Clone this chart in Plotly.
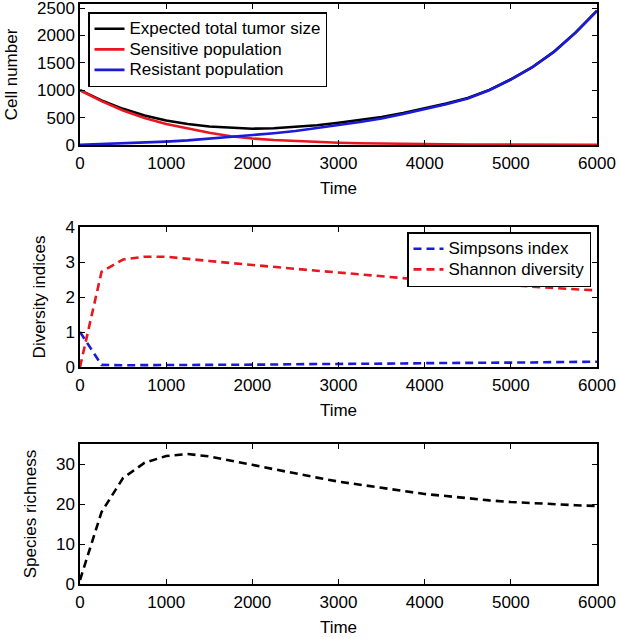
import plotly.graph_objects as go

# ---- data ----
time = [0, 250, 500, 750, 1000, 1250, 1500, 1750, 2000, 2250, 2500, 2750, 3000,
        3250, 3500, 3750, 4000, 4250, 4500, 4750, 5000, 5250, 5500, 5750, 6000]

sensitive = [1000, 800, 630, 495, 385, 300, 222, 160, 118, 92, 72, 55, 42,
             33, 26, 20, 15, 12, 9, 7, 5, 4, 3, 2, 2]
resistant = [3, 15, 30, 45, 62, 85, 115, 152, 180, 215, 255, 305, 365,
             420, 485, 565, 655, 745, 850, 1000, 1195, 1420, 1700, 2050, 2450]
total = [1003, 815, 660, 540, 447, 385, 337, 312, 298, 307, 327, 360, 407,
         453, 511, 585, 670, 757, 859, 1007, 1200, 1424, 1703, 2052, 2452]

simpson = [1.0, 0.06, 0.05, 0.05, 0.05, 0.05, 0.06, 0.06, 0.07, 0.07, 0.08, 0.08, 0.09,
           0.09, 0.10, 0.10, 0.11, 0.11, 0.12, 0.12, 0.13, 0.13, 0.14, 0.14, 0.15]
shannon = [0.0, 2.72, 3.07, 3.15, 3.15, 3.10, 3.03, 2.97, 2.91, 2.85, 2.80, 2.75, 2.70,
           2.64, 2.59, 2.54, 2.49, 2.45, 2.40, 2.36, 2.32, 2.29, 2.25, 2.22, 2.19]
richness = [1, 18, 26.5, 30.3, 32.0, 32.5, 31.9, 30.9, 29.8, 28.7, 27.6, 26.6, 25.6,
            24.8, 24.0, 23.2, 22.5, 22.0, 21.4, 20.9, 20.5, 20.2, 19.9, 19.7, 19.5]

x_ticks = [0, 1000, 2000, 3000, 4000, 5000, 6000]
y1_ticks = [0, 500, 1000, 1500, 2000, 2500]
y2_ticks = [0, 1, 2, 3, 4]
y3_ticks = [0, 10, 20, 30]

names_top = ["Expected total tumor size", "Sensitive population", "Resistant population"]
names_mid = ["Simpsons index", "Shannon diversity"]

RED = "#e8161f"
BLUE = "#1a1ad8"
FONT = "Liberation Sans, Arial, Helvetica, sans-serif"
FS = 17
LFS = 13.5


def lname(s):
    return "<span style='font-size:17px'>" + s + "</span>"


fig = go.Figure()

# top panel
fig.add_trace(go.Scatter(x=time, y=total, mode="lines", name=lname(names_top[0]),
                         line=dict(color="black", width=2.6), xaxis="x", yaxis="y", legend="legend"))
fig.add_trace(go.Scatter(x=time, y=sensitive, mode="lines", name=lname(names_top[1]),
                         line=dict(color=RED, width=2.6), xaxis="x", yaxis="y", legend="legend"))
fig.add_trace(go.Scatter(x=time, y=resistant, mode="lines", name=lname(names_top[2]),
                         line=dict(color=BLUE, width=2.6), xaxis="x", yaxis="y", legend="legend"))

# middle panel
fig.add_trace(go.Scatter(x=time, y=simpson, mode="lines", name=lname(names_mid[0]),
                         line=dict(color=BLUE, width=2.6, dash="8px,5px"),
                         xaxis="x2", yaxis="y2", legend="legend2"))
fig.add_trace(go.Scatter(x=time, y=shannon, mode="lines", name=lname(names_mid[1]),
                         line=dict(color=RED, width=2.6, dash="8px,5px"),
                         xaxis="x2", yaxis="y2", legend="legend2"))

# bottom panel
fig.add_trace(go.Scatter(x=time, y=richness, mode="lines", name="Species richness",
                         line=dict(color="black", width=2.6, dash="8px,5px"),
                         xaxis="x3", yaxis="y3", showlegend=False))

H = 639
W = 619
ML, MR, MT, MB = 80, 22, 4, 55
ph = H - MT - MB


def py(pix):
    return (H - MB - pix) / ph


def px(pix):
    return (pix - ML) / (W - ML - MR)


axis_common = dict(showline=True, linecolor="black", linewidth=1.5, mirror="ticks",
                   ticks="inside", ticklen=5, tickwidth=1.3, tickcolor="black",
                   showgrid=False, zeroline=False, automargin=False,
                   ticklabeloverflow="allow",
                   tickfont=dict(family=FONT, size=FS, color="black"))

xcommon = dict(axis_common, range=[0, 6000], tickvals=x_ticks, ticklabelstandoff=2,
               title=dict(text="Time", font=dict(family=FONT, size=FS, color="black"), standoff=10))

ytitle_font = dict(family=FONT, size=FS, color="black")

leg_common = dict(bgcolor="white", bordercolor="black", borderwidth=1.5,
                  font=dict(family=FONT, size=LFS, color="black"),
                  tracegroupgap=0, itemwidth=30)

fig.update_layout(
    width=W, height=H,
    margin=dict(l=ML, r=MR, t=MT, b=MB, autoexpand=False),
    paper_bgcolor="white", plot_bgcolor="white",
    font=dict(family=FONT, size=FS, color="black"),
    xaxis=dict(xcommon, domain=[0, 1], anchor="y"),
    xaxis2=dict(xcommon, domain=[0, 1], anchor="y2"),
    xaxis3=dict(xcommon, domain=[0, 1], anchor="y3"),
    yaxis=dict(axis_common, domain=[py(145), py(4)], range=[0, 2575], tickvals=y1_ticks,
               anchor="x", title=dict(text="Cell number", font=ytitle_font)),
    yaxis2=dict(axis_common, domain=[py(367), py(227)], range=[0, 4], tickvals=y2_ticks,
                anchor="x2", title=dict(text="Diversity indices", font=ytitle_font)),
    yaxis3=dict(axis_common, domain=[py(584), py(444)], range=[0, 35], tickvals=y3_ticks,
                anchor="x3", title=dict(text="Species richness", font=ytitle_font)),
    legend=dict(leg_common, x=px(88), y=py(12), xanchor="left", yanchor="top"),
    legend2=dict(leg_common, x=px(591), y=py(232), xanchor="right", yanchor="top"),
    showlegend=True,
)

fig.write_html("out.html", config={"displayModeBar": False},
               post_script="document.body.style.margin='0px';")
